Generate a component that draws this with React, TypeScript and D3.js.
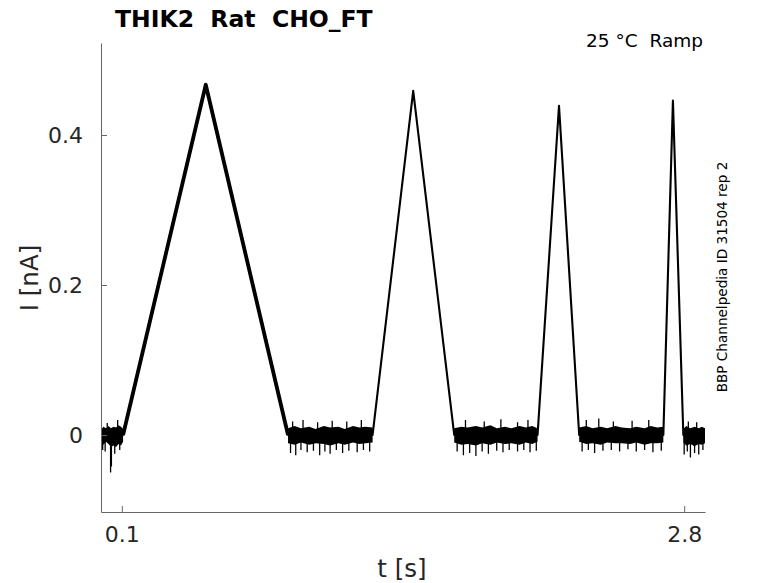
import { useEffect, useRef } from "react";
import * as d3 from "d3";

// main trace corners (time in s, current in nA)
const traceT = [0, 0.106, 0.503, 0.898, 1.304, 1.499, 1.696, 2.096, 2.199, 2.296, 2.7, 2.746, 2.796, 2.9];
const traceI = [0, 0, 0.467, 0, 0, 0.459, 0, 0, 0.439, 0, 0, 0.446, 0, 0];

// first (slow) ramp is drawn thicker: several sweeps overlap there
const ramp1T = [0.106, 0.503, 0.898];
const ramp1I = [0, 0.467, 0];

// dense noise band on the baseline stretches
const bandT = [
  [0, 0.012, 0.024, 0.036, 0.048, 0.06, 0.072, 0.084, 0.096, 0.106],
  [0.898, 0.93, 0.96, 1.0, 1.03, 1.07, 1.1, 1.14, 1.17, 1.21, 1.24, 1.27, 1.304],
  [1.696, 1.73, 1.76, 1.8, 1.83, 1.87, 1.9, 1.94, 1.97, 2.01, 2.04, 2.07, 2.096],
  [2.296, 2.33, 2.36, 2.4, 2.43, 2.47, 2.5, 2.54, 2.57, 2.61, 2.64, 2.67, 2.7],
  [2.796, 2.81, 2.83, 2.85, 2.87, 2.885, 2.9],
];
const bandHi = [
  [0.007, 0.011, 0.009, 0.012, 0.009, 0.011, 0.01, 0.013, 0.011, 0.008],
  [0.009, 0.012, 0.009, 0.011, 0.008, 0.012, 0.01, 0.011, 0.008, 0.012, 0.01, 0.011, 0.01],
  [0.009, 0.011, 0.01, 0.012, 0.01, 0.013, 0.009, 0.011, 0.009, 0.012, 0.01, 0.012, 0.009],
  [0.01, 0.012, 0.009, 0.011, 0.009, 0.012, 0.01, 0.009, 0.011, 0.009, 0.012, 0.01, 0.011],
  [0.008, 0.012, 0.009, 0.011, 0.009, 0.011, 0.009],
];
const bandLo = [
  [-0.01, -0.013, -0.009, -0.012, -0.016, -0.014, -0.016, -0.012, -0.014, -0.009],
  [-0.011, -0.013, -0.01, -0.013, -0.011, -0.012, -0.014, -0.011, -0.013, -0.01, -0.012, -0.011, -0.01],
  [-0.01, -0.013, -0.012, -0.014, -0.011, -0.013, -0.01, -0.012, -0.011, -0.013, -0.01, -0.012, -0.009],
  [-0.009, -0.012, -0.011, -0.013, -0.01, -0.011, -0.011, -0.012, -0.01, -0.013, -0.011, -0.011, -0.01],
  [-0.01, -0.014, -0.012, -0.015, -0.012, -0.013, -0.011],
];

// isolated noise spikes poking out of the band
const spikeT = [
  0.008, 0.02, 0.046, 0.05, 0.066, 0.09, 0.03, 0.08,
  0.91, 0.935, 0.96, 0.99, 1.02, 1.05, 1.075, 1.1, 1.13, 1.16, 1.19, 1.23, 1.26, 1.29, 0.92, 0.97, 1.04, 1.11, 1.18, 1.25,
  1.71, 1.74, 1.77, 1.8, 1.83, 1.86, 1.9, 1.93, 1.96, 2.0, 2.03, 2.06, 2.09, 1.75, 1.84, 1.92, 2.0, 2.05,
  2.31, 2.34, 2.37, 2.41, 2.45, 2.49, 2.53, 2.57, 2.61, 2.65, 2.69, 2.33, 2.39, 2.46, 2.55, 2.63,
  2.8, 2.815, 2.83, 2.85, 2.87, 2.89, 2.82, 2.86,
];
const spikeI = [
  -0.02, -0.022, -0.05, -0.042, -0.025, -0.02, 0.016, 0.02,
  -0.024, -0.027, -0.02, -0.023, -0.021, -0.027, -0.022, -0.025, -0.02, -0.024, -0.021, -0.023, -0.02, -0.022, 0.018, 0.02, 0.017, 0.019, 0.018, 0.02,
  -0.022, -0.027, -0.024, -0.028, -0.022, -0.025, -0.021, -0.023, -0.02, -0.022, -0.02, -0.023, -0.021, 0.02, 0.018, 0.021, 0.017, 0.02,
  -0.022, -0.02, -0.024, -0.021, -0.02, -0.022, -0.019, -0.022, -0.02, -0.023, -0.021, 0.02, 0.022, 0.018, 0.019, 0.02,
  -0.026, -0.022, -0.03, -0.024, -0.026, -0.02, 0.018, 0.017,
];

const tickT = [0.1, 2.8];
const tickI = [0, 0.2, 0.4];

const W = 778;
const H = 583;

export default function App() {
  const svgRef = useRef<SVGSVGElement | null>(null);

  useEffect(() => {
    if (!svgRef.current) return;
    const svg = d3.select(svgRef.current);
    svg.selectAll("*").remove();

    const font = "DejaVu Sans, sans-serif";
    const x = d3.scaleLinear().domain([0, 2.9]).range([101, 705]);
    const y = d3.scaleLinear().domain([-0.1027, 0.5227]).range([512, 43]);

    // noise band
    const area = d3
      .area<[number, number, number]>()
      .x((d) => x(d[0]))
      .y0((d) => y(d[2]))
      .y1((d) => y(d[1]));
    bandT.forEach((ts, k) => {
      const pts = ts.map((t, i) => [t, bandHi[k][i], bandLo[k][i]] as [number, number, number]);
      svg.append("path").datum(pts).attr("fill", "#000").attr("d", area);
    });

    svg
      .append("g")
      .selectAll("line")
      .data(spikeT.map((t, i) => [t, spikeI[i]]))
      .join("line")
      .attr("x1", (d) => x(d[0]))
      .attr("x2", (d) => x(d[0]))
      .attr("y1", y(0))
      .attr("y2", (d) => y(d[1]))
      .attr("stroke", "#000")
      .attr("stroke-width", 1.3);

    const line = d3
      .line<[number, number]>()
      .x((d) => x(d[0]))
      .y((d) => y(d[1]));

    svg
      .append("path")
      .datum(ramp1T.map((t, i) => [t, ramp1I[i]] as [number, number]))
      .attr("fill", "none")
      .attr("stroke", "#000")
      .attr("stroke-width", 3.8)
      .attr("stroke-linejoin", "round")
      .attr("d", line);

    svg
      .append("path")
      .datum(traceT.map((t, i) => [t, traceI[i]] as [number, number]))
      .attr("fill", "none")
      .attr("stroke", "#000")
      .attr("stroke-width", 2.1)
      .attr("stroke-linejoin", "round")
      .attr("d", line);

    // axes
    const yAxis = svg
      .append("g")
      .attr("transform", "translate(101,0)")
      .call(
        d3
          .axisLeft(y)
          .tickValues(tickI)
          .tickSizeInner(-6)
          .tickSizeOuter(0)
          .tickPadding(18)
          .tickFormat((d) => (d === 0 ? "0" : d3.format(".1f")(d as number)))
      );
    const xAxis = svg
      .append("g")
      .attr("transform", "translate(0,512)")
      .call(
        d3
          .axisBottom(x)
          .tickValues(tickT)
          .tickSizeInner(-6)
          .tickSizeOuter(0)
          .tickPadding(14)
          .tickFormat(d3.format(".1f"))
      );
    [xAxis, yAxis].forEach((a) => {
      a.select(".domain").attr("stroke", "#666");
      a.selectAll(".tick line").attr("stroke", "#666");
      a.selectAll("text")
        .attr("fill", "#262626")
        .style("font-family", font)
        .style("font-size", "22px");
    });

    // labels
    svg
      .append("text")
      .attr("x", 402)
      .attr("y", 577)
      .attr("text-anchor", "middle")
      .attr("fill", "#262626")
      .style("font-family", font)
      .style("font-size", "24.5px")
      .text("t [s]");

    svg
      .append("text")
      .attr("transform", "translate(38,278) rotate(-90)")
      .attr("text-anchor", "middle")
      .attr("fill", "#262626")
      .style("font-family", font)
      .style("font-size", "24.5px")
      .text("I [nA]");

    svg
      .append("text")
      .attr("x", 115)
      .attr("y", 27)
      .attr("fill", "#000")
      .style("font-family", font)
      .style("font-weight", "bold")
      .style("font-size", "23.5px")
      .style("white-space", "pre")
      .text("THIK2  Rat  CHO_FT");

    svg
      .append("text")
      .attr("x", 703)
      .attr("y", 47)
      .attr("text-anchor", "end")
      .attr("fill", "#000")
      .style("font-family", font)
      .style("font-size", "18.5px")
      .style("white-space", "pre")
      .text("25 °C  Ramp");

    svg
      .append("text")
      .attr("transform", "translate(727,277) rotate(-90)")
      .attr("text-anchor", "middle")
      .attr("fill", "#000")
      .style("font-family", font)
      .style("font-size", "13.6px")
      .text("BBP Channelpedia ID 31504 rep 2");
  }, []);

  return (
    <svg
      ref={svgRef}
      width={W}
      height={H}
      style={{ position: "absolute", left: 0, top: 0, background: "#fff" }}
    />
  );
}
